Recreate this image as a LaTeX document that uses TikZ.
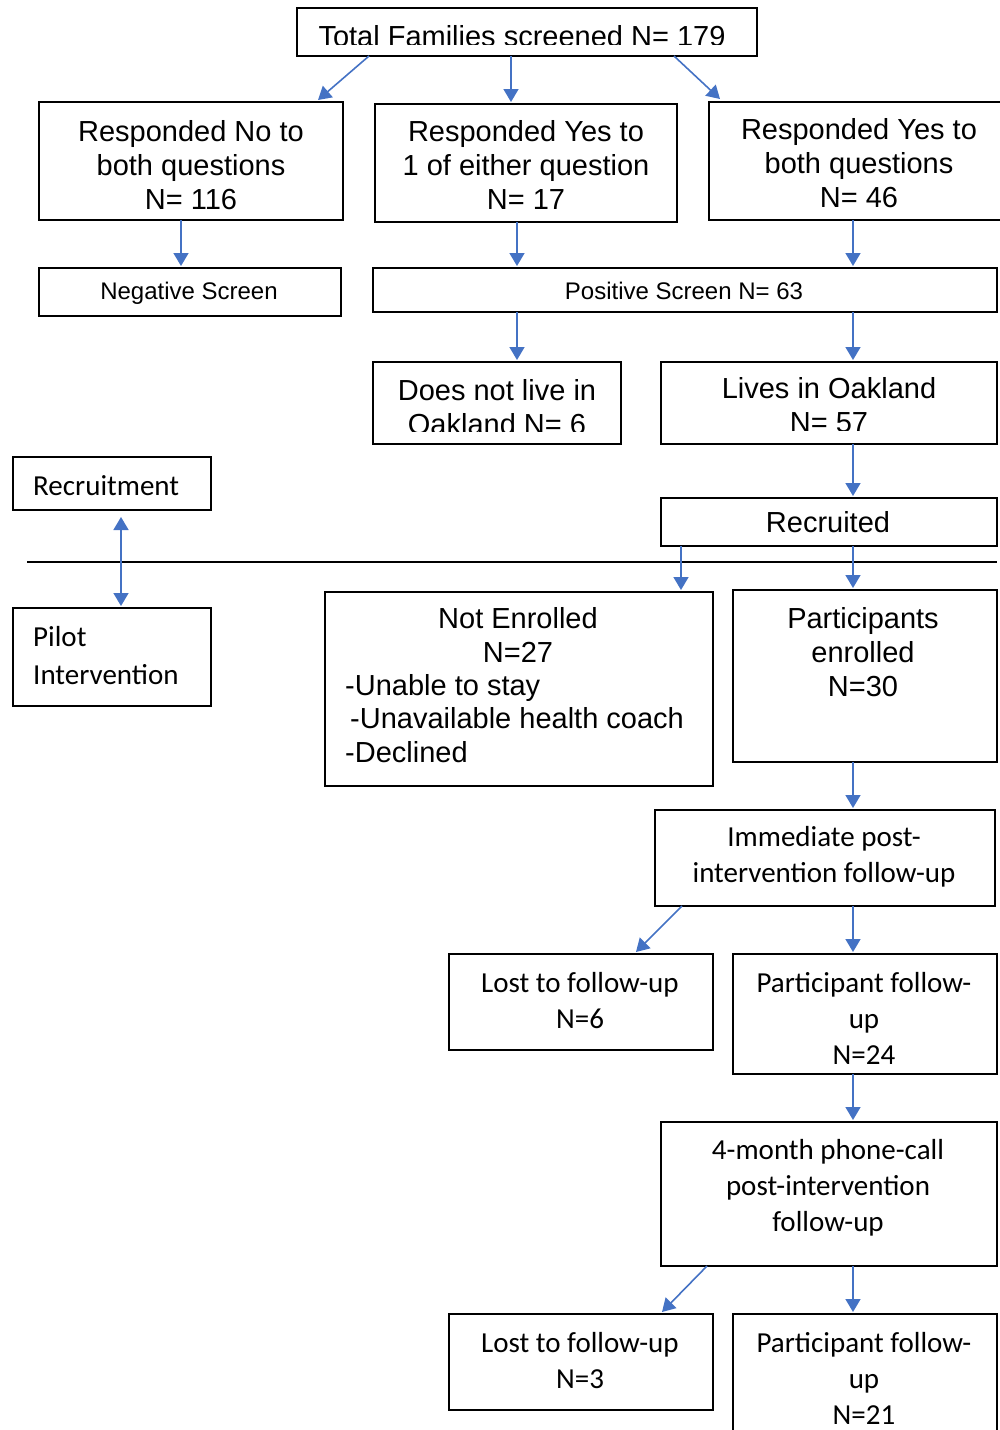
\documentclass[tikz,border=0pt]{standalone}
\usepackage{fontspec}
\setmainfont{Liberation Sans}
\newfontfamily\calfont{Carlito}
\usetikzlibrary{arrows.meta}
\definecolor{arrblue}{HTML}{4472C4}
\tikzset{
  box/.style={draw=black, line width=1.4pt, inner sep=0pt, outer sep=0pt},
  arr/.style={draw=arrblue, line width=1.6pt, -{Triangle[width=15pt,length=13pt]}},
  darr/.style={draw=arrblue, line width=1.6pt, {Triangle[width=15pt,length=13pt]}-{Triangle[width=15pt,length=13pt]}},
  ar/.style={font=\fontsize{29}{34}\selectfont, align=center, anchor=base, inner sep=0pt},
  arl/.style={font=\fontsize{29}{33.5}\selectfont, align=left, anchor=base west, inner sep=0pt},
  ars/.style={font=\fontsize{24}{28}\selectfont, align=center, anchor=base, inner sep=0pt},
  ca/.style={font=\calfont\fontsize{29}{36}\selectfont, align=center, anchor=base, inner sep=0pt},
  cal/.style={font=\calfont\fontsize{29}{38}\selectfont, align=left, anchor=base west, inner sep=0pt},
}
\begin{document}
\begin{tikzpicture}[x=1pt,y=-1pt]
\useasboundingbox (0,0) rectangle (999,1430);
% boxes
\node[box, minimum width=460, minimum height=48] (total) at (527,32) {};
\node[box, minimum width=304, minimum height=118] (no) at (191,161) {};
\node[box, minimum width=302, minimum height=118] (yes1) at (526,163) {};
\node[box, minimum width=301, minimum height=118] (yesb) at (859.5,161) {};
\node[box, minimum width=302, minimum height=48] (neg) at (190,292) {};
\node[box, minimum width=624, minimum height=44] (pos) at (685,290) {};
\node[box, minimum width=248, minimum height=82] (dnl) at (497,403) {};
\node[box, minimum width=336, minimum height=82] (lio) at (829,403) {};
\node[box, minimum width=198, minimum height=53] (recruitment) at (112,483.5) {};
\node[box, minimum width=336, minimum height=48] (recruited) at (829,522) {};
\node[box, minimum width=198, minimum height=98] (pilot) at (112,657) {};
\node[box, minimum width=388, minimum height=194] (noten) at (519,689) {};
\node[box, minimum width=264, minimum height=172] (penr) at (865,676) {};
\node[box, minimum width=340, minimum height=96] (imm) at (825,858) {};
\node[box, minimum width=264, minimum height=96] (lost6) at (581,1002) {};
\node[box, minimum width=264, minimum height=120] (p24) at (865,1014) {};
\node[box, minimum width=336, minimum height=144] (m4) at (829,1194) {};
\node[box, minimum width=264, minimum height=96] (lost3) at (581,1362) {};
\node[box, minimum width=264, minimum height=140] (p21) at (865,1384) {};
% texts (anchor = baseline of the last line)
\begin{scope}
  \clip (297,8) rectangle (757,44.5);
  \node[ar] (totalt) at (522,46.5) {Total Families screened N= 179};
\end{scope}
\node[ar] (not) at (191,209) {Responded No to\\both questions\\N= 116};
\node[ar] (yes1t) at (526,209) {Responded Yes to\\1 of either question\\N= 17};
\node[ar] (yesbt) at (859,207) {Responded Yes to\\both questions\\N= 46};
\node[ars] (negt) at (189,299.5) {Negative Screen};
\node[ars] (post) at (684,299.5) {Positive Screen N= 63};
\begin{scope}
  \clip (373,362) rectangle (621,431);
  \node[ar] (dnlt) at (497,434) {Does not live in\\Oakland N= 6};
\end{scope}
\begin{scope}
  \clip (661,362) rectangle (997,430);
  \node[ar] (liot) at (829,432) {Lives in Oakland\\N= 57};
\end{scope}
\node[ar] (recruitedt) at (828,532) {Recruited};
\node[cal] (recruitmentt) at (33,495) {Recruitment};
\node[cal] (pilott) at (33,684) {Pilot\\Intervention};
\node[ar] (notent) at (518,662) {Not Enrolled\\N=27};
\node[arl] (notenl) at (345,762) {-Unable to stay\\\hspace*{5pt}-Unavailable health coach\\-Declined};
\node[ar] (penrt) at (863,696) {Participants\\enrolled\\N=30};
\node[ca] (immt) at (824,882) {Immediate post-\\intervention follow-up};
\node[ca] (lost6t) at (580,1028) {Lost to follow-up\\N=6};
\node[ca] (p24t) at (864,1064) {Participant follow-\\up\\N=24};
\node[ca] (m4t) at (828,1231) {4-month phone-call\\post-intervention\\follow-up};
\node[ca] (lost3t) at (580,1388) {Lost to follow-up\\N=3};
\node[ca] (p21t) at (864,1424) {Participant follow-\\up\\N=21};
% column coordinates
\coordinate (c121) at (121,0);
\coordinate (c181) at (181,0);
\coordinate (c511) at (511,0);
\coordinate (c517) at (517,0);
\coordinate (c681) at (681,0);
\coordinate (c853) at (853,0);
% separator
\draw[line width=1.2pt] (27,562) -- (997,562);
% connectors
\draw[arr] ([xshift=72pt]total.south west) -- ([xshift=-25pt,yshift=2pt]no.north east);
\draw[arr] (total.south -| c511) -- ([yshift=2pt]yes1.north -| c511);
\draw[arr] ([xshift=-83pt]total.south east) -- ([xshift=11pt,yshift=3pt]yesb.north west);
\draw[arr] (no.south -| c181) -- ([yshift=2pt]neg.north -| c181);
\draw[arr] (yes1.south -| c517) -- ([yshift=2pt]pos.north -| c517);
\draw[arr] (yesb.south -| c853) -- ([yshift=2pt]pos.north -| c853);
\draw[arr] (pos.south -| c517) -- ([yshift=2pt]dnl.north -| c517);
\draw[arr] (pos.south -| c853) -- ([yshift=2pt]lio.north -| c853);
\draw[arr] (lio.south -| c853) -- ([yshift=2pt]recruited.north -| c853);
\draw[arr] (recruited.south -| c681) -- ([yshift=2pt]noten.north -| c681);
\draw[arr] (recruited.south -| c853) -- ([yshift=2pt]penr.north -| c853);
\draw[arr] (penr.south -| c853) -- ([yshift=2pt]imm.north -| c853);
\draw[arr] ([xshift=27pt]imm.south west) -- ([xshift=-77pt,yshift=2pt]lost6.north east);
\draw[arr] (imm.south -| c853) -- ([yshift=2pt]p24.north -| c853);
\draw[arr] (p24.south -| c853) -- ([yshift=2pt]m4.north -| c853);
\draw[arr] ([xshift=46pt]m4.south west) -- ([xshift=-51pt,yshift=2pt]lost3.north east);
\draw[arr] (m4.south -| c853) -- ([yshift=2pt]p21.north -| c853);
\draw[darr, shorten <=7pt, shorten >=2pt] (recruitment.south -| c121) -- (pilot.north -| c121);
\end{tikzpicture}
\end{document}
